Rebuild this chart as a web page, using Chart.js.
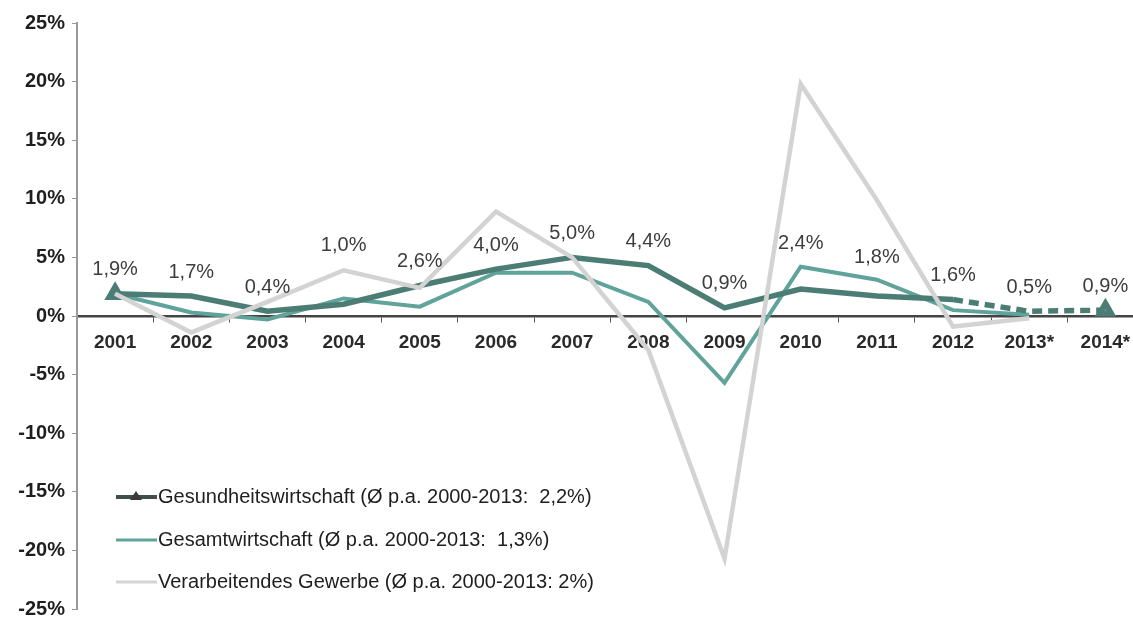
<!DOCTYPE html>
<html><head><meta charset="utf-8">
<script src="https://cdn.jsdelivr.net/npm/chart.js@4/dist/chart.umd.min.js"></script>
<style>html,body{margin:0;padding:0;background:#fff;overflow:hidden;width:1133px;height:618px}#wrap{position:absolute;left:0;top:4px;width:1156px;height:624px}</style>
</head><body><div id="wrap"><canvas id="c"></canvas></div>
<script>
const categories = ['2001','2002','2003','2004','2005','2006','2007','2008','2009','2010','2011','2012','2013*','2014*'];
const gesundheit = [1.9,1.7,0.4,1.0,2.6,4.0,5.0,4.3,0.7,2.3,1.7,1.4,0.4,0.5];
const gesundheitLabels = ['1,9%','1,7%','0,4%','1,0%','2,6%','4,0%','5,0%','4,4%','0,9%','2,4%','1,8%','1,6%','0,5%','0,9%'];
const gesamt = [1.9,0.3,-0.3,1.5,0.8,3.7,3.7,1.2,-5.7,4.2,3.1,0.5,0.1,null];
const verarbeitend = [1.9,-1.4,1.2,3.9,2.4,8.9,5.0,-2.9,-20.7,19.8,9.9,-0.9,-0.2,null];
const yTicks = [-25,-20,-15,-10,-5,0,5,10,15,20,25];
const legendNames = [
  'Gesundheitswirtschaft (Ø p.a. 2000-2013:  2,2%)',
  'Gesamtwirtschaft (Ø p.a. 2000-2013:  1,3%)',
  'Verarbeitendes Gewerbe (Ø p.a. 2000-2013: 2%)'
];

const DARK = '#4b7d75', TEAL = '#5fa39a', GREY = '#d3d3d3';
const FONT = '"Liberation Sans", Arial, sans-serif';

const labelPlugin = {
  id: 'valueLabels',
  afterDatasetsDraw(chart) {
    const ctx = chart.ctx;
    const meta = chart.getDatasetMeta(1);
    const extra = {3: 35, 9: 22, 10: 15};
    ctx.save();
    ctx.font = '20px ' + FONT;
    ctx.fillStyle = '#3d3d3d';
    ctx.textAlign = 'center';
    ctx.textBaseline = 'middle';
    meta.data.forEach((pt, i) => {
      const off = 24 + (extra[i] || 0);
      ctx.fillText(gesundheitLabels[i], pt.x, pt.y - off);
    });
    ctx.restore();
  }
};

const legendPlugin = {
  id: 'customLegend',
  afterDraw(chart) {
    const ctx = chart.ctx;
    const colors = [DARK, TEAL, GREY];
    const ys = [493, 536, 578];
    ctx.save();
    ctx.font = '20px ' + FONT;
    ctx.textBaseline = 'middle';
    legendNames.forEach((t, i) => {
      const y = ys[i];
      ctx.strokeStyle = i === 0 ? '#3f4f4c' : colors[i];
      ctx.lineWidth = i === 0 ? 4 : 3;
      ctx.beginPath(); ctx.moveTo(116, y); ctx.lineTo(157, y); ctx.stroke();
      if (i === 0) {
        ctx.fillStyle = '#3a3a3a';
        ctx.beginPath(); ctx.moveTo(136, y - 6); ctx.lineTo(142, y + 3); ctx.lineTo(130, y + 3); ctx.closePath(); ctx.fill();
      }
      ctx.fillStyle = '#1e1e1e';
      ctx.fillText(t, 158, y);
    });
    ctx.restore();
  }
};

new Chart(document.getElementById('c'), {
  type: 'line',
  data: {
    labels: categories,
    datasets: [
      {
        label: legendNames[2], data: verarbeitend, borderColor: GREY, borderWidth: 4.5,
        pointRadius: 0, tension: 0, order: 0
      },
      {
        label: legendNames[0], data: gesundheit, borderColor: DARK, borderWidth: 5.5,
        backgroundColor: DARK, tension: 0, order: 1,
        pointStyle: 'triangle',
        pointRadius: ctx => (ctx.dataIndex === 0 || ctx.dataIndex === 13) ? 7 : 0,
        pointBorderColor: DARK, pointBackgroundColor: '#5a9a90',
        segment: { borderDash: c => c.p0DataIndex >= 11 ? [10, 6] : undefined }
      },
      {
        label: legendNames[1], data: gesamt, borderColor: TEAL, borderWidth: 4,
        pointRadius: 0, tension: 0, order: 2
      }
    ]
  },
  options: {
    responsive: true, maintainAspectRatio: false, animation: false,
    layout: { padding: { top: 19, right: 0, bottom: 0, left: 0 } },
    plugins: { legend: { display: false }, tooltip: { enabled: false } },
    scales: {
      x: {
        position: { y: 0 }, offset: true,
        grid: { display: true, drawOnChartArea: false, drawTicks: true, tickLength: 5, color: '#555', offset: true },
        border: { display: true, color: '#444', width: 2.5 },
        ticks: { color: '#2a2a2a', font: { family: FONT, size: 19, weight: 'bold' }, padding: 10, maxRotation: 0, autoSkip: false }
      },
      y: {
        min: -25, max: 25,
        afterBuildTicks: s => { s.ticks = yTicks.map(v => ({ value: v })); },
        afterFit: s => { s.width = 77; },
        grid: { display: true, drawOnChartArea: false, drawTicks: true, tickLength: 5, color: '#999' },
        border: { display: true, color: '#999', width: 2 },
        ticks: { color: '#1e1e1e', font: { family: FONT, size: 20, weight: 'bold' }, padding: 7, callback: v => v + '%' }
      }
    }
  },
  plugins: [labelPlugin, legendPlugin]
});
</script></body></html>
